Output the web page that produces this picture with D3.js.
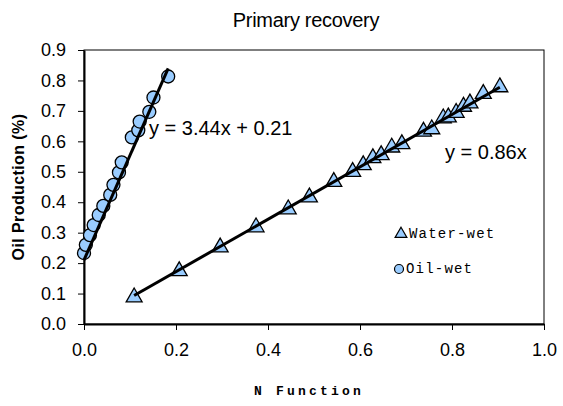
<!DOCTYPE html>
<html>
<head>
<meta charset="utf-8">
<script src="https://cdn.jsdelivr.net/npm/d3@7"></script>
<style>
  html, body { margin: 0; padding: 0; background: #fff; }
  svg { display: block; }
</style>
</head>
<body>
<svg id="chart" width="563" height="406"></svg>
<script>
// N Function vs. oil production, primary recovery
const waterWetN = [0.109, 0.207, 0.296, 0.374, 0.444, 0.490, 0.543, 0.584, 0.607, 0.628, 0.646, 0.669, 0.691, 0.738, 0.756, 0.781, 0.792, 0.809, 0.825, 0.839, 0.868, 0.904];
const waterWetOil = [0.088, 0.174, 0.252, 0.318, 0.377, 0.416, 0.467, 0.500, 0.522, 0.545, 0.555, 0.580, 0.591, 0.632, 0.640, 0.676, 0.679, 0.694, 0.714, 0.725, 0.756, 0.778];

const oilWetN = [0.000, 0.004, 0.013, 0.021, 0.032, 0.042, 0.057, 0.064, 0.076, 0.082, 0.104, 0.118, 0.121, 0.142, 0.151, 0.183];
const oilWetOil = [0.233, 0.260, 0.292, 0.325, 0.358, 0.388, 0.424, 0.457, 0.498, 0.531, 0.613, 0.636, 0.665, 0.697, 0.744, 0.813];

// Linear trendlines: [slope, intercept]
const waterWetFit = [0.86, 0];
const oilWetFit = [3.44, 0.21];

const xTicks = [0.0, 0.2, 0.4, 0.6, 0.8, 1.0];
const yTicks = [0.0, 0.1, 0.2, 0.3, 0.4, 0.5, 0.6, 0.7, 0.8, 0.9];

const svg = d3.select("#chart");
const plotL = 84, plotR = 544, plotT = 50, plotB = 324;

const x = d3.scaleLinear().domain([0, 1]).range([plotL, plotR]);
const y = d3.scaleLinear().domain([0, 0.9]).range([plotB, plotT]);

const fill = "#99ccff";
const sansFont = "'Liberation Sans', Arial, sans-serif";
const monoFont = "'Liberation Mono', 'Courier New', monospace";

// Title
svg.append("text")
  .attr("x", 306).attr("y", 27)
  .attr("text-anchor", "middle")
  .style("font-family", sansFont).style("font-size", "20px")
  .style("letter-spacing", "-0.3px")
  .text("Primary recovery");

// Plot frame
svg.append("rect")
  .attr("x", plotL).attr("y", plotT)
  .attr("width", plotR - plotL).attr("height", plotB - plotT)
  .attr("fill", "none").attr("stroke", "#000").attr("stroke-width", 1);

// Axes
const xAxis = svg.append("g")
  .attr("transform", `translate(0,${plotB})`)
  .call(d3.axisBottom(x).tickValues(xTicks).tickFormat(d3.format(".1f")).tickSize(6).tickSizeOuter(0).tickPadding(13));
const yAxis = svg.append("g")
  .attr("transform", `translate(${plotL},0)`)
  .call(d3.axisLeft(y).tickValues(yTicks).tickFormat(d3.format(".1f")).tickSize(6).tickSizeOuter(0).tickPadding(12));

[xAxis, yAxis].forEach(g => {
  g.select(".domain").attr("stroke", "#000").attr("stroke-width", 2);
  g.selectAll(".tick line").attr("stroke", "#000").attr("stroke-width", 1);
  g.selectAll(".tick text")
    .style("font-family", sansFont).style("font-size", "18px").attr("fill", "#000");
});

// Axis titles
svg.append("text")
  .attr("transform", `translate(24,${(plotT + plotB) / 2}) rotate(-90)`)
  .attr("text-anchor", "middle")
  .style("font-family", sansFont).style("font-size", "16px").style("font-weight", "bold")
  .style("letter-spacing", "0.4px")
  .text("Oil Production (%)");

svg.append("text")
  .attr("x", 309).attr("y", 395)
  .attr("text-anchor", "middle")
  .style("font-family", monoFont).style("font-size", "13px").style("font-weight", "bold")
  .style("letter-spacing", "3.2px")
  .text("N Function");

// Trendlines across each series' N range
function trend(fit, xs) {
  const [m, b] = fit;
  const [x0, x1] = d3.extent(xs);
  svg.append("line")
    .attr("x1", x(x0)).attr("y1", y(m * x0 + b))
    .attr("x2", x(x1)).attr("y2", y(m * x1 + b))
    .attr("stroke", "#000").attr("stroke-width", 3);
}

// Markers
const triPath = d3.symbol().type(d3.symbolTriangle).size(110);

svg.append("g").selectAll("path")
  .data(waterWetN.map((d, i) => [d, waterWetOil[i]]))
  .join("path")
  .attr("d", triPath)
  .attr("transform", d => `translate(${x(d[0])},${y(d[1])})`)
  .attr("fill", fill).attr("stroke", "#000").attr("stroke-width", 1.3);

svg.append("g").selectAll("circle")
  .data(oilWetN.map((d, i) => [d, oilWetOil[i]]))
  .join("circle")
  .attr("cx", d => x(d[0])).attr("cy", d => y(d[1]))
  .attr("r", 6.5)
  .attr("fill", fill).attr("stroke", "#000").attr("stroke-width", 1.3);

trend(waterWetFit, waterWetN);
trend(oilWetFit, oilWetN);

// Trendline equations
svg.append("text")
  .attr("x", 149).attr("y", 135)
  .style("font-family", sansFont).style("font-size", "20px")
  .text("y = 3.44x + 0.21");
svg.append("text")
  .attr("x", 445).attr("y", 159)
  .style("font-family", sansFont).style("font-size", "20px")
  .text("y = 0.86x");

// Legend
const legend = svg.append("g");
legend.append("path")
  .attr("d", d3.symbol().type(d3.symbolTriangle).size(60)())
  .attr("transform", "translate(401,234)")
  .attr("fill", fill).attr("stroke", "#000").attr("stroke-width", 1.2);
legend.append("text")
  .attr("x", 409).attr("y", 238)
  .style("font-family", monoFont).style("font-size", "14px")
  .style("letter-spacing", "1.2px")
  .text("Water-wet");
legend.append("circle")
  .attr("cx", 399).attr("cy", 269).attr("r", 4.5)
  .attr("fill", fill).attr("stroke", "#000").attr("stroke-width", 1.2);
legend.append("text")
  .attr("x", 406).attr("y", 273)
  .style("font-family", monoFont).style("font-size", "14px")
  .style("letter-spacing", "1.2px")
  .text("Oil-wet");
</script>
</body>
</html>
